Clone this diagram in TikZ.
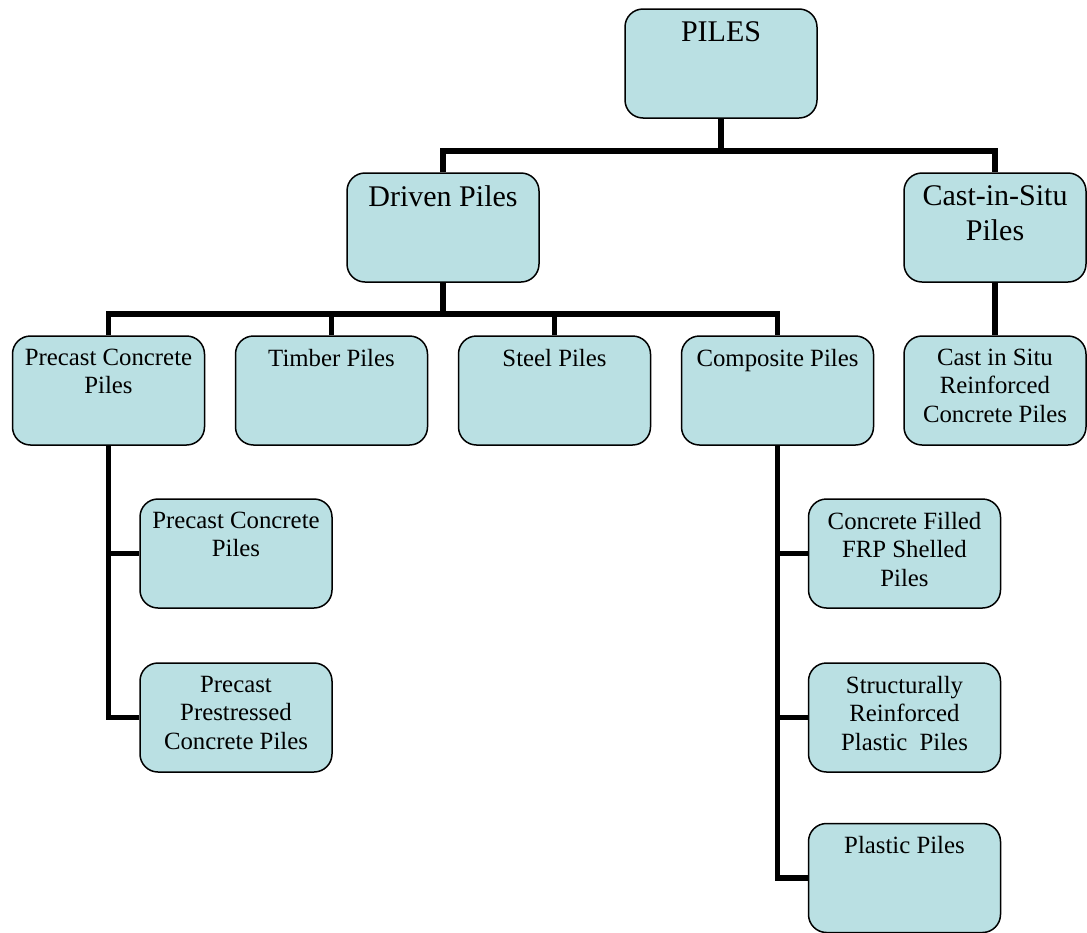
\documentclass[tikz,border=0pt]{standalone}
\usepackage{fontspec}
\setmainfont{Liberation Serif}
\definecolor{boxfill}{RGB}{186,224,227}
\newcommand{\intext}[1]{\parbox[t][83pt][t]{174pt}{\centering #1}}
\tikzset{
  pilebox/.style={draw,line width=1.5pt,fill=boxfill,rounded corners=18pt,
    inner xsep=4pt,inner ysep=13pt,minimum width=192pt,
    font=\fontsize{24.8}{28.5}\selectfont},
  bigbox/.style={pilebox,font=\fontsize{30}{35}\selectfont},
  link/.style={line width=5.5pt}
}
\begin{document}
\begin{tikzpicture}[x=1pt,y=-1pt]
		\useasboundingbox (0,0) rectangle (1087,932);
		\clip (0,0) rectangle (1087,932);
		% level 1 and 2
		\node[bigbox] (piles) at (721,63.5) {\intext{PILES}};
		\node[bigbox] (driven) at (443,227.5) {\intext{Driven Piles}};
		\node[bigbox,minimum width=182pt] (cast) at (995,227.5) {\intext{Cast-in-Situ\\Piles}};
		% level 3
		\node[pilebox] (precast) at (108.5,390.5) {\intext{Precast Concrete\\Piles}};
		\node[pilebox] (timber) at (331.5,390.5) {\intext{Timber Piles}};
		\node[pilebox] (steel) at (554.5,390.5) {\intext{Steel Piles}};
		\node[pilebox] (composite) at (777.5,390.5) {\intext{Composite Piles}};
		\node[pilebox,minimum width=182pt] (reinf) at (995,390.5) {\intext{Cast in Situ\\Reinforced\\Concrete Piles}};
		% level 4
		\node[pilebox] (precastb) at (236,553.5) {\intext{Precast Concrete\\Piles}};
		\node[pilebox] (prestressed) at (236,717.5) {\intext{Precast\\Prestressed\\Concrete Piles}};
		\node[pilebox] (frp) at (904.5,553.5) {\intext{Concrete Filled\\FRP Shelled\\Piles}};
		\node[pilebox] (srp) at (904.5,717.5) {\intext{Structurally\\Reinforced\\Plastic~ Piles}};
		\node[pilebox] (plastic) at (904.5,878) {\intext{Plastic Piles}};
		% connectors
		\draw[link] (piles.south) -- ++(0,32) coordinate (j1);
		\draw[link] (driven.north) |- (j1) -| (cast.north);
		\draw[link] (driven.south) -- ++(0,31) coordinate (j2);
		\draw[link] (precast.north) |- (j2) -| (composite.north);
		\draw[link] (timber.north) -- (timber.north |- j2);
		\draw[link] (steel.north) -- (steel.north |- j2);
		\draw[link] (cast.south) -- (reinf.north);
		\draw[link] (precast.south) |- (prestressed.west);
		\draw[link] (precastb.west) -- (precastb.west -| precast.south);
		\draw[link] (composite.south) |- (plastic.west);
		\draw[link] (frp.west) -- (frp.west -| composite.south);
		\draw[link] (srp.west) -- (srp.west -| composite.south);
\end{tikzpicture}
\end{document}
